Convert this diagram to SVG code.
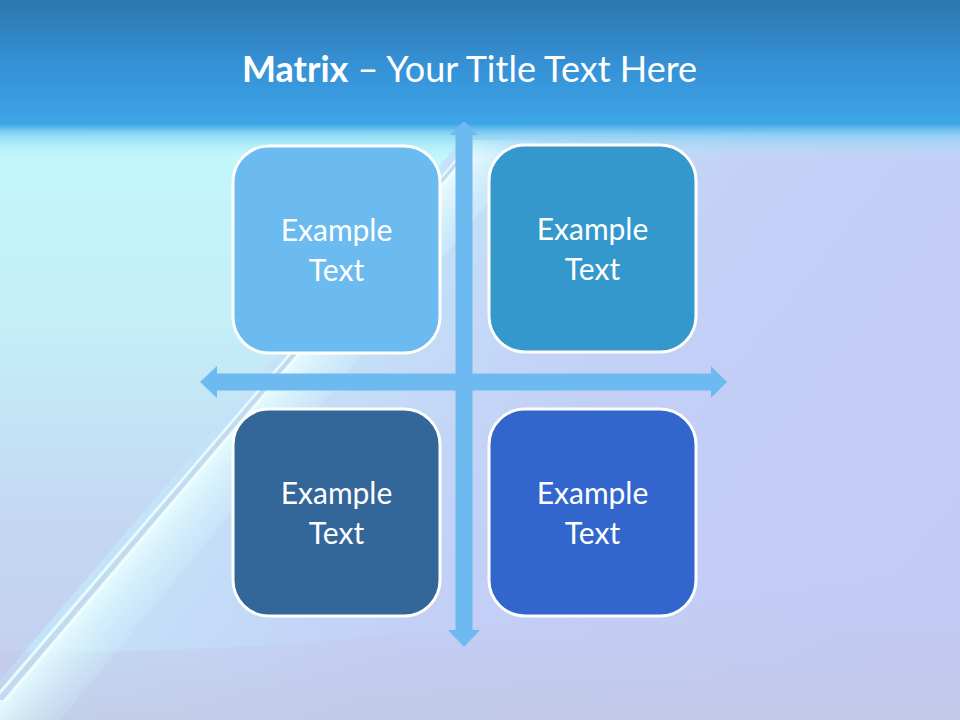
<svg xmlns="http://www.w3.org/2000/svg" width="960" height="720" viewBox="0 0 960 720">
<defs>
<linearGradient id="bg" x1="0" y1="0.2" x2="1" y2="0.8">
<stop offset="0" stop-color="#C6F4FA"/>
<stop offset="0.35" stop-color="#C4E2F8"/>
<stop offset="0.6" stop-color="#C3D0F6"/>
<stop offset="1" stop-color="#C3CAF6"/>
</linearGradient>
<linearGradient id="leftside" x1="0" y1="0" x2="0" y2="1">
<stop offset="0" stop-color="#C2F8FC"/>
<stop offset="0.35" stop-color="#C4EEF8"/>
<stop offset="0.7" stop-color="#C4D8F2"/>
<stop offset="1" stop-color="#C4D0EE"/>
</linearGradient>
<linearGradient id="hdr" x1="0" y1="0" x2="0" y2="1">
<stop offset="0" stop-color="#2C77AE"/>
<stop offset="0.5" stop-color="#3590D4"/>
<stop offset="1" stop-color="#3EA6E8"/>
</linearGradient>
<linearGradient id="hdrfade" x1="0" y1="0" x2="0" y2="1">
<stop offset="0" stop-color="#3EA6E8" stop-opacity="1"/>
<stop offset="0.3" stop-color="#7ACCF2" stop-opacity="0.7"/>
<stop offset="1" stop-color="#C0F2FA" stop-opacity="0"/>
</linearGradient>
<linearGradient id="glow" gradientUnits="userSpaceOnUse" x1="235" y1="425" x2="290" y2="472">
<stop offset="0" stop-color="#E8FDFF" stop-opacity="0.95"/>
<stop offset="1" stop-color="#D0F0FC" stop-opacity="0"/>
</linearGradient>
<linearGradient id="btm" x1="0" y1="0" x2="0" y2="1">
<stop offset="0" stop-color="#C3C8EC" stop-opacity="0"/>
<stop offset="1" stop-color="#C2C8E2" stop-opacity="0.7"/>
</linearGradient>
<style>
.box{stroke:#FFFFFF;stroke-width:3}
.lbl{font-family:Lato,"Open Sans","Liberation Sans",sans-serif;font-size:30px;fill:#FFFFFF;text-anchor:middle}
.arrow{fill:#6CBAF0}
.title{font-family:Lato,"Open Sans","Liberation Sans",sans-serif;font-size:36px;fill:#FFFFFF}
</style>
</defs>
<g id="background">
<rect x="0" y="0" width="960" height="720" fill="url(#bg)"/>
<polygon points="0,130 470,130 0,680" fill="url(#leftside)"/>
<path d="M0,650 C300,660 600,610 960,570 L960,720 L0,720 Z" fill="url(#btm)"/>
<polygon points="472,140 540,140 60,720 0,720 0,690" fill="url(#glow)"/>
<polygon points="466,150 470,150 3,700 0,700 0,695" fill="#A6BEE2" opacity="0.55"/>
<polygon points="471,150 474,150 6,702 3,702" fill="#F4FEFF" opacity="0.8"/>
<rect x="0" y="0" width="960" height="125" fill="url(#hdr)"/>
<rect x="0" y="124" width="960" height="36" fill="url(#hdrfade)"/>
</g>
<g id="title">
<text class="title" x="242" y="82"><tspan font-weight="bold">Matrix</tspan> – Your Title Text Here</text>
</g>
<g id="connectors">
<polygon class="arrow" points="464,121 478,135 472.5,135 472.5,630 480,630 464,647 448,630 455.5,630 455.5,135 450,135"/>
<polygon class="arrow" points="200,382 217,366 217,373.5 711,373.5 711,366 727,382 711,398 711,390.5 217,390.5 217,398"/>
</g>
<g id="node-tl">
<rect class="box" x="233" y="146" width="207" height="207" rx="36" fill="#6BBBF0"/>
<text class="lbl" x="336.5" y="241">Example</text>
<text class="lbl" x="336.5" y="281">Text</text>
</g>
<g id="node-tr">
<rect class="box" x="489" y="145" width="207" height="207" rx="36" fill="#3498CC"/>
<text class="lbl" x="592.5" y="240">Example</text>
<text class="lbl" x="592.5" y="280">Text</text>
</g>
<g id="node-bl">
<rect class="box" x="233" y="409" width="207" height="207" rx="36" fill="#336699"/>
<text class="lbl" x="336.5" y="504">Example</text>
<text class="lbl" x="336.5" y="544">Text</text>
</g>
<g id="node-br">
<rect class="box" x="489" y="409" width="207" height="207" rx="36" fill="#3366CC"/>
<text class="lbl" x="592.5" y="504">Example</text>
<text class="lbl" x="592.5" y="544">Text</text>
</g>
</svg>
